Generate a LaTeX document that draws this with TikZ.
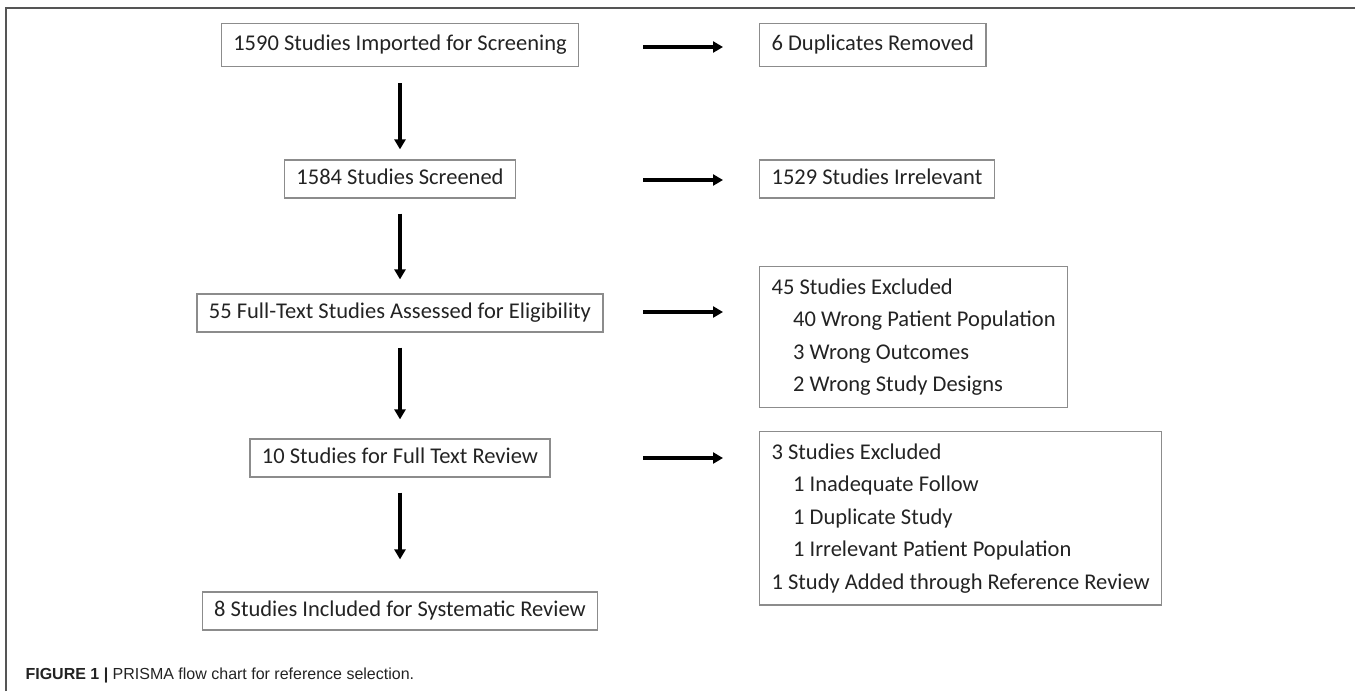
\documentclass[tikz,border=0pt]{standalone}
\usepackage{fontspec}
\setmainfont{Carlito}
\newfontfamily\capfont{Liberation Sans}
\usetikzlibrary{arrows.meta}
\definecolor{boxgray}{RGB}{140,140,140}
\definecolor{framegray}{RGB}{85,85,85}
\definecolor{txt}{RGB}{35,35,35}
\begin{document}
\begin{tikzpicture}[x=1pt,y=-1pt,
  box/.style={draw=boxgray, line width=1.2pt, inner xsep=12pt, inner ysep=0pt,
    font=\fontsize{22.5}{32.5}\selectfont, text=txt, text height=16pt, text depth=5pt, minimum height=38pt},
  listbox/.style={draw=boxgray, line width=1.2pt, inner xsep=12pt, inner ysep=12pt,
    font=\fontsize{22.5}{32.5}\selectfont, text=txt, align=left},
  flow/.style={line width=3.2pt, -{Triangle[length=10pt,width=11pt]}},
  captext/.style={font=\capfont\fontsize{16}{19}\selectfont, text=txt}
]
\useasboundingbox (0,0) rectangle (1355,691);
\draw[framegray, line width=1.5pt] (6,691) -- (6,8) -- (1355,8);

% main column
\node[box, minimum height=43pt] (b1) at (400,45) {1590 Studies Imported for Screening};
\node[box] (b2) at (400,179) {1584 Studies Screened};
\node[box] (b3) at (400,313) {55 Full-Text Studies Assessed for Eligibility};
\node[box] (b4) at (400,458) {10 Studies for Full Text Review};
\node[box] (b5) at (400,611) {8 Studies Included for Systematic Review};

% right column
\node[box, minimum height=43pt, anchor=west] (r1) at (759,45) {6 Duplicates Removed};
\node[box, anchor=west] (r2) at (759,179) {1529 Studies Irrelevant};
\node[listbox, anchor=north west] (r3) at (759,266) {45 Studies Excluded\\
\hspace*{21.6pt}40 Wrong Patient Population\\
\hspace*{21.6pt}3 Wrong Outcomes\\
\hspace*{21.6pt}2 Wrong Study Designs};
\node[listbox, anchor=north west] (r4) at (759,431) {3 Studies Excluded\\
\hspace*{21.6pt}1 Inadequate Follow\\
\hspace*{21.6pt}1 Duplicate Study\\
\hspace*{21.6pt}1 Irrelevant Patient Population\\
1 Study Added through Reference Review};

% vertical arrows
\draw[flow, shorten <=16pt, shorten >=10pt] (b1) -- (b2);
\draw[flow, shorten <=15pt, shorten >=14pt] (b2) -- (b3);
\draw[flow, shorten <=15pt, shorten >=19pt] (b3) -- (b4);
\draw[flow, shorten <=15pt, shorten >=32pt] (b4) -- (b5);

% horizontal arrows
\coordinate (h1s) at (643,47); \coordinate (h1e) at (723,47);
\coordinate (h2s) at (643,180); \coordinate (h2e) at (723,180);
\coordinate (h3s) at (643,312); \coordinate (h3e) at (723,312);
\coordinate (h4s) at (643,458); \coordinate (h4e) at (723,458);
\draw[flow] (h1s) -- (h1e);
\draw[flow] (h2s) -- (h2e);
\draw[flow] (h3s) -- (h3e);
\draw[flow] (h4s) -- (h4e);

% caption
\node[captext, anchor=base west] (cap) at (22,679) {\textbf{FIGURE 1 |} PRISMA flow chart for reference selection.};
\end{tikzpicture}
\end{document}
